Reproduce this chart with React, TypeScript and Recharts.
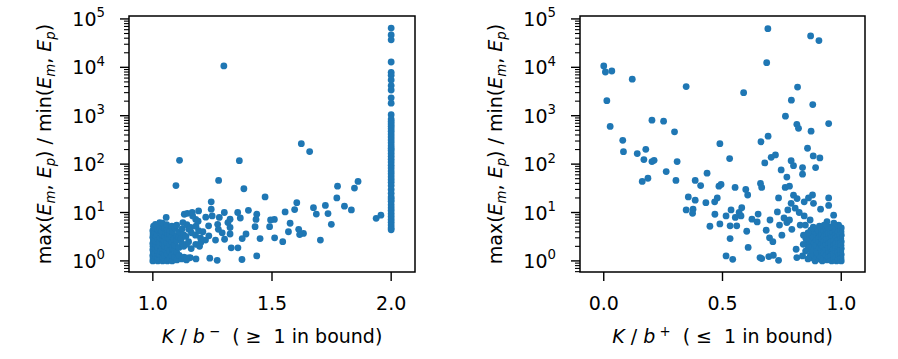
import { ScatterChart, Scatter, XAxis, YAxis, ReferenceArea, Label } from "recharts"

const FONT = "DejaVu Sans"
const BLUE = "#1f77b4"
const FS = 19
const SUB = 13.3

// y axis (log) ticks
const yMajorTicks = [1, 10, 100, 1000, 10000, 100000]
const yMinorSteps = [2, 3, 4, 5, 6, 7, 8, 9]
const yBelowOne = [0.6, 0.7, 0.8, 0.9]
const yDomain = [0.59, 115000]

const leftXTicks = [1.0, 1.5, 2.0]
const rightXTicks = [0.0, 0.5, 1.0]
const leftXDomain = [0.9, 2.1]
const rightXDomain = [-0.1, 1.1]

// K/b- = 2.0 column
const leftColumnY = [
  64600, 46800, 37000, 12900, 7900, 6900, 5500, 4200, 3400, 2340, 1820, 1050, 851, 759, 676, 603,
  537, 479, 417, 363, 316, 275, 240, 214, 191, 166, 145, 126, 110, 95, 83, 72, 63, 55, 48, 42, 36,
  30, 25, 21, 19, 17, 14.5, 12.6, 11, 9.5, 8.3, 7.2, 6.3, 5.5, 4.8, 4.4,
]

const leftSpread: [number, number][] = [
  [1.298, 10700], [1.623, 265], [1.658, 182], [1.112, 120], [1.363, 118], [1.276, 46],
  [1.097, 36], [1.382, 31], [1.471, 21], [1.861, 44], [1.846, 32], [1.775, 35], [1.772, 20],
  [1.604, 16], [1.245, 16.6], [1.804, 13.5], [1.833, 11.3], [1.724, 14], [1.735, 9.5],
  [1.749, 5.7], [1.674, 12.6], [1.686, 9.3], [1.595, 11.5], [1.555, 10.3], [1.937, 7.6],
  [1.957, 8.8], [1.703, 2.7], [1.545, 2.5], [1.511, 3.0], [1.576, 6.0], [1.569, 4.0],
  [1.612, 4.5], [1.632, 3.7], [1.616, 3.5], [1.51, 7.2], [1.494, 7.0], [1.49, 5.1],
  [1.45, 2.9], [1.436, 1.27], [1.374, 1.07], [1.433, 7.2], [1.429, 5.1], [1.436, 9.2],
  [1.401, 11.1], [1.367, 7.7], [1.356, 10], [1.391, 3.6], [1.375, 2.9], [1.357, 1.86],
  [1.329, 1.86], [1.324, 3.6], [1.324, 4.9], [1.324, 7.3], [1.315, 6.2], [1.3, 10],
  [1.279, 7.9], [1.272, 5.7], [1.275, 4.5], [1.291, 3.8], [1.301, 2.8], [1.245, 11.7],
  [1.249, 8.5], [1.234, 5.3], [1.239, 1.14], [1.27, 1.03], [1.192, 10.8], [1.167, 8.5],
  [1.19, 6.6], [1.132, 9.2], [1.126, 6.2], [1.192, 4.2], [1.2, 3.0], [1.196, 2.0],
  [1.157, 1.17], [1.141, 1.14], [1.235, 3.3], [1.263, 2.7], [1.151, 4.5], [1.056, 7.9],
  [1.145, 9.6], [1.165, 10.1], [1.011, 5.7],
]

const leftCluster: [number, number][] = [
  [1.0, 1.0], [1.001, 1.15], [1.0, 1.3], [1.002, 1.5], [1.0, 1.7], [1.001, 2.0], [1.0, 2.3],
  [1.002, 2.7], [1.0, 3.1], [1.001, 3.6], [1.0, 4.2], [1.003, 5.2],
  [1.01, 1.05], [1.012, 1.25], [1.009, 1.45], [1.011, 1.8], [1.013, 2.2], [1.01, 2.6],
  [1.012, 3.3], [1.008, 4.0], [1.011, 4.8],
  [1.021, 1.0], [1.02, 1.2], [1.022, 1.4], [1.019, 1.65], [1.021, 1.9], [1.023, 2.4],
  [1.02, 2.9], [1.018, 3.5], [1.022, 4.4], [1.02, 5.5],
  [1.031, 1.1], [1.029, 1.35], [1.032, 1.6], [1.03, 2.1], [1.028, 2.5], [1.031, 3.0],
  [1.033, 3.8], [1.03, 4.6], [1.029, 6.2],
  [1.041, 1.0], [1.04, 1.2], [1.042, 1.5], [1.039, 1.8], [1.041, 2.3], [1.043, 2.8],
  [1.04, 3.4], [1.038, 4.1], [1.042, 5.0], [1.04, 6.0],
  [1.051, 1.05], [1.049, 1.3], [1.052, 1.7], [1.05, 2.0], [1.048, 2.6], [1.051, 3.2],
  [1.053, 3.9], [1.05, 4.7],
  [1.061, 1.0], [1.06, 1.4], [1.062, 1.9], [1.059, 2.4], [1.061, 3.0], [1.063, 3.7],
  [1.06, 4.5], [1.058, 5.6],
  [1.071, 1.1], [1.07, 1.6], [1.072, 2.2], [1.069, 2.9], [1.071, 3.5], [1.073, 4.3],
  [1.081, 1.0], [1.08, 1.3], [1.082, 1.8], [1.079, 2.5], [1.081, 3.2], [1.083, 4.0],
  [1.08, 5.2],
  [1.091, 1.2], [1.09, 1.7], [1.092, 2.1], [1.089, 2.8], [1.093, 4.8],
  [1.101, 1.05], [1.1, 1.5], [1.099, 2.6], [1.101, 3.3], [1.1, 5.5],
  [1.111, 1.3], [1.11, 1.9], [1.109, 3.1], [1.111, 4.0],
  [1.121, 1.1], [1.122, 2.3], [1.119, 2.9], [1.123, 4.6],
  [1.131, 1.2], [1.13, 2.0], [1.129, 3.5],
  [1.141, 1.05], [1.142, 2.2], [1.139, 3.2], [1.143, 5.6],
  [1.151, 1.15], [1.15, 2.5],
  [1.161, 1.8], [1.162, 3.8], [1.159, 4.9],
  [1.181, 1.1], [1.18, 2.2], [1.179, 3.4], [1.181, 5.2], [1.18, 7.2],
  [1.201, 2.4], [1.21, 4.0], [1.221, 2.7], [1.222, 8.0],
]

const rightSpread: [number, number][] = [
  [0.691, 63000], [0.871, 44500], [0.906, 35800], [0.686, 12500], [0.0, 10700], [0.007, 8000],
  [0.034, 8400], [0.12, 5700], [0.347, 4000], [0.816, 3900], [0.589, 3000], [0.79, 2100],
  [0.013, 2050], [0.88, 1700], [0.765, 980], [0.947, 690], [0.027, 600], [0.203, 810],
  [0.252, 770], [0.813, 665], [0.82, 550], [0.298, 465], [0.873, 480], [0.692, 378],
  [0.662, 290], [0.489, 265], [0.08, 310], [0.083, 181], [0.177, 202], [0.141, 165],
  [0.858, 213], [0.169, 124], [0.203, 113], [0.212, 120], [0.309, 113], [0.53, 130],
  [0.705, 138], [0.723, 155], [0.678, 106], [0.789, 118], [0.799, 93], [0.882, 148],
  [0.91, 134], [0.837, 85], [0.892, 85], [0.837, 62], [0.747, 76], [0.771, 54], [0.263, 70],
  [0.162, 44], [0.186, 51], [0.304, 46], [0.385, 46], [0.435, 65], [0.408, 36], [0.485, 35],
  [0.494, 38], [0.553, 33], [0.598, 30], [0.606, 23], [0.66, 40], [0.665, 33], [0.764, 33],
  [0.782, 35], [0.356, 21], [0.385, 18], [0.347, 11.3], [0.376, 11.7], [0.374, 9.6],
  [0.43, 16], [0.467, 16.6], [0.478, 20], [0.468, 9.2], [0.447, 5.2], [0.489, 5.8],
  [0.515, 8.5], [0.536, 11.3], [0.532, 5.3], [0.532, 2.9], [0.554, 7.9], [0.56, 5.3],
  [0.57, 10], [0.581, 12.6], [0.578, 8.5], [0.602, 4.1], [0.608, 1.9], [0.624, 7.3],
  [0.646, 6.4], [0.65, 9.3], [0.515, 1.27], [0.543, 1.08], [0.658, 1.17], [0.665, 1.12],
  [0.684, 4.3], [0.698, 3.0], [0.7, 7.0], [0.712, 2.5], [0.695, 1.23], [0.714, 1.31],
  [0.736, 1.03], [0.736, 20], [0.731, 10.3], [0.74, 5.5], [0.75, 3.4], [0.759, 7.7],
  [0.771, 6.2], [0.782, 7.0], [0.789, 15.5], [0.799, 22.8], [0.814, 19.4], [0.775, 11.3],
  [0.806, 12.3], [0.823, 10], [0.792, 4.5], [0.827, 5.5], [0.81, 1.74], [0.813, 1.17],
  [0.837, 1.27], [0.844, 16.6], [0.862, 20], [0.879, 23], [0.947, 20], [0.947, 14],
  [0.913, 11.7], [0.883, 15.5], [0.968, 8.8], [0.844, 8.5], [0.869, 7.0],
]

const rightCluster: [number, number][] = [
  [1.0, 1.0], [0.999, 1.15], [1.0, 1.35], [0.998, 1.55], [1.0, 1.8], [0.999, 2.1],
  [1.0, 2.5], [0.998, 2.9], [1.0, 3.4], [0.999, 4.0], [1.0, 4.8],
  [0.99, 1.05], [0.991, 1.25], [0.989, 1.5], [0.99, 1.75], [0.992, 2.0], [0.99, 2.4],
  [0.988, 2.8], [0.991, 3.3], [0.99, 3.9], [0.989, 5.5],
  [0.98, 1.0], [0.981, 1.2], [0.979, 1.45], [0.98, 1.7], [0.982, 2.2], [0.98, 2.6],
  [0.978, 3.1], [0.981, 3.7], [0.98, 4.5],
  [0.97, 1.1], [0.971, 1.35], [0.969, 1.6], [0.97, 1.95], [0.972, 2.3], [0.97, 2.9],
  [0.968, 3.5], [0.971, 4.2], [0.97, 5.2], [0.969, 6.0],
  [0.96, 1.0], [0.961, 1.25], [0.959, 1.5], [0.96, 1.9], [0.962, 2.4], [0.96, 3.0],
  [0.958, 3.8], [0.961, 4.6],
  [0.95, 1.15], [0.951, 1.4], [0.949, 1.8], [0.95, 2.2], [0.952, 2.7], [0.95, 3.3],
  [0.948, 4.0], [0.951, 5.0],
  [0.94, 1.05], [0.941, 1.3], [0.939, 1.65], [0.94, 2.0], [0.942, 2.5], [0.94, 3.2],
  [0.938, 3.9], [0.941, 4.8], [0.94, 6.5],
  [0.93, 1.2], [0.931, 1.55], [0.929, 1.9], [0.93, 2.4], [0.932, 3.0], [0.93, 3.7],
  [0.928, 5.5],
  [0.92, 1.0], [0.921, 1.35], [0.919, 1.7], [0.92, 2.2], [0.922, 2.8], [0.92, 3.5],
  [0.918, 4.3],
  [0.91, 1.1], [0.911, 1.5], [0.909, 2.0], [0.91, 2.6], [0.912, 3.3], [0.91, 4.1],
  [0.908, 5.2],
  [0.9, 1.25], [0.901, 1.6], [0.899, 2.3], [0.9, 2.9], [0.902, 3.6], [0.9, 4.6],
  [0.89, 1.0], [0.891, 1.45], [0.889, 1.9], [0.89, 2.5], [0.892, 3.2], [0.89, 4.0],
  [0.88, 1.15], [0.881, 2.1], [0.879, 2.8], [0.88, 3.5], [0.882, 5.0],
  [0.87, 1.3], [0.871, 1.7], [0.869, 2.4], [0.87, 3.1], [0.872, 4.3],
  [0.86, 1.1], [0.861, 2.0], [0.859, 2.6], [0.86, 3.8],
  [0.85, 1.6], [0.851, 2.9], [0.849, 5.5], [0.84, 2.2], [0.841, 3.4],
]

const toPoints = (pairs: [number, number][]) => pairs.map(([x, y]) => ({ x, y }))

const leftData = [
  ...toPoints(leftCluster),
  ...toPoints(leftSpread),
  ...leftColumnY.map((y) => ({ x: 2.0, y })),
]
const rightData = [...toPoints(rightCluster), ...toPoints(rightSpread)]

const yTicks = [
  ...yBelowOne,
  ...yMajorTicks.flatMap((m) => [m, ...yMinorSteps.map((s) => s * m)]),
].filter((v) => v <= yDomain[1])

function YTick(props: any) {
  const { x, y, payload } = props
  const exp = yMajorTicks.indexOf(payload.value)
  if (exp < 0) {
    return <line x1={x - 5} y1={y} x2={x} y2={y} stroke="#000" strokeWidth={1.1} />
  }
  return (
    <g>
      <line x1={x - 9} y1={y} x2={x} y2={y} stroke="#000" strokeWidth={1.4} />
      <text x={x - 24} y={y + 7} textAnchor="end" fontFamily={FONT} fontSize={FS} fill="#000">
        10
        <tspan dy={-8.5} fontSize={SUB}>
          {exp}
        </tspan>
      </text>
    </g>
  )
}

function XTick(props: any) {
  const { x, y, payload } = props
  return (
    <g>
      <line x1={x} y1={y} x2={x} y2={y + 9} stroke="#000" strokeWidth={1.4} />
      <text x={x} y={y + 38} textAnchor="middle" fontFamily={FONT} fontSize={FS} fill="#000">
        {payload.value.toFixed(1)}
      </text>
    </g>
  )
}

function YLabel(props: any) {
  const vb = props.viewBox
  const cx = vb.x + vb.width - 78
  const cy = vb.y + vb.height / 2
  const it = { fontStyle: "italic" as const }
  return (
    <text
      transform={`rotate(-90 ${cx} ${cy})`}
      x={cx}
      y={cy}
      textAnchor="middle"
      fontFamily={FONT}
      fontSize={FS}
      fill="#000"
      style={{ whiteSpace: "pre" }}
    >
      <tspan>max(</tspan>
      <tspan {...it}>E</tspan>
      <tspan {...it} fontSize={SUB} dy={4}>m</tspan>
      <tspan dy={-4}>{", "}</tspan>
      <tspan {...it}>E</tspan>
      <tspan {...it} fontSize={SUB} dy={4}>p</tspan>
      <tspan dy={-4}>{") / min("}</tspan>
      <tspan {...it}>E</tspan>
      <tspan {...it} fontSize={SUB} dy={4}>m</tspan>
      <tspan dy={-4}>{", "}</tspan>
      <tspan {...it}>E</tspan>
      <tspan {...it} fontSize={SUB} dy={4}>p</tspan>
      <tspan dy={-4}>)</tspan>
    </text>
  )
}

function makeXLabel(sign: string, rel: string) {
  return function XLabel(props: any) {
    const vb = props.viewBox
    const cx = vb.x + vb.width / 2
    const cy = vb.y + 71
    return (
      <text
        x={cx}
        y={cy}
        textAnchor="middle"
        fontFamily={FONT}
        fontSize={FS}
        fill="#000"
        style={{ whiteSpace: "pre" }}
      >
        <tspan fontStyle="italic">K</tspan>
        <tspan>{" / "}</tspan>
        <tspan fontStyle="italic">b</tspan>
        <tspan dy={-7} fontSize={SUB}>{" " + sign}</tspan>
        <tspan dy={7}>{"  ( " + rel + "  1 in bound)"}</tspan>
      </text>
    )
  }
}

const Dot = (p: any) => <circle cx={p.cx} cy={p.cy} r={3.4} fill={BLUE} />

interface PanelProps {
  data: { x: number; y: number }[]
  xDomain: number[]
  xTicks: number[]
  yAxisWidth: number
  rightMargin: number
  xLabel: (props: any) => any
}

function Panel({ data, xDomain, xTicks, yAxisWidth, rightMargin, xLabel }: PanelProps) {
  return (
    <ScatterChart
      width={449}
      height={359}
      margin={{ top: 16, right: rightMargin, bottom: 0, left: 0 }}
    >
      <XAxis
        type="number"
        dataKey="x"
        domain={xDomain}
        ticks={xTicks}
        allowDataOverflow
        interval={0}
        height={87}
        axisLine={false}
        tickLine={false}
        tickSize={0}
        tickMargin={0}
        tick={XTick}
      >
        <Label content={xLabel} />
      </XAxis>
      <YAxis
        type="number"
        dataKey="y"
        scale="log"
        domain={yDomain}
        ticks={yTicks}
        allowDataOverflow
        interval={0}
        width={yAxisWidth}
        axisLine={false}
        tickLine={false}
        tickSize={0}
        tickMargin={0}
        tick={YTick}
      >
        <Label content={YLabel} />
      </YAxis>
      <ReferenceArea
        x1={xDomain[0]}
        x2={xDomain[1]}
        y1={yDomain[0]}
        y2={yDomain[1]}
        fill="none"
        fillOpacity={0}
        stroke="#000"
        strokeWidth={1.5}
        ifOverflow="visible"
      />
      <Scatter data={data} fill={BLUE} shape={Dot} isAnimationActive={false} />
    </ScatterChart>
  )
}

export default function App() {
  return (
    <div
      style={{
        position: "absolute",
        left: 0,
        top: 0,
        width: 898,
        height: 359,
        background: "#fff",
        fontFamily: FONT,
      }}
    >
      <div style={{ position: "absolute", left: 0, top: 0 }}>
        <Panel
          data={leftData}
          xDomain={leftXDomain}
          xTicks={leftXTicks}
          yAxisWidth={129}
          rightMargin={34}
          xLabel={makeXLabel("\u2212", "\u2265")}
        />
      </div>
      <div style={{ position: "absolute", left: 450, top: 0 }}>
        <Panel
          data={rightData}
          xDomain={rightXDomain}
          xTicks={rightXTicks}
          yAxisWidth={130}
          rightMargin={34}
          xLabel={makeXLabel("+", "\u2264")}
        />
      </div>
    </div>
  )
}
